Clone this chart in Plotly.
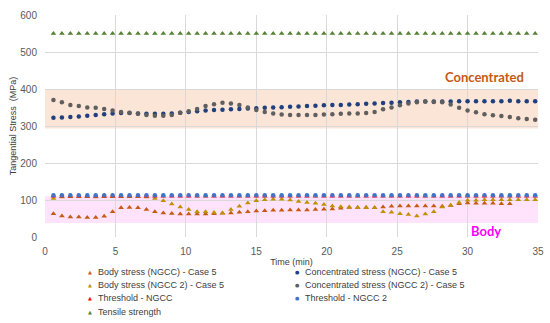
import plotly.graph_objects as go

# ---- data ----
time_min = [round(0.6 * k, 1) for k in range(1, 59)]

body_ngcc = [63, 57, 54, 54, 53, 53, 56, 68, 79, 80, 79, 74, 68, 65, 63.5, 62, 62, 62, 62, 63,
             64, 65, 67, 68, 70, 71, 72, 72, 73, 73, 73, 74, 75, 76, 78, 80, 80, 80, 79, 81,
             83, 84, 84, 84, 84, 84, 83, 85, 90, 92, 91, 91, 91, 90, 90, None, None, None]

conc_ngcc = [322, 323, 324, 326, 328, 330, 332, 334, 335, 335, 334, 333, 333, 333, 334, 336, 338, 340, 342, 343,
             344, 345, 346, 347, 348, 349, 350, 351, 352, 353, 354, 355, 356, 357, 357, 358, 359, 360, 361, 362,
             363, 364, 365, 366, 366, 366, 366, 366, 367, 367, 367, 367, 367, 367, 368, 367, 367, 367]

body_ngcc2 = [104, 108, 109, 109, 109, 108, 109, 109, 109, 109, 109, 108, 104, 98, 89, 81, 74, 68, 68, 66,
              65, 74, 83, 92, 98, 101, 102, 102, 100, 96, 93, 91, 88, 84, 82, 81, 80, 80, 79, 68,
              67, 63, 61, 57, 62, 68, 81, 86, 93, 99, 99, 101, 101, 101, 101, 101, 101, 101]

conc_ngcc2 = [370, 364, 357, 354, 350, 349, 346, 342, 338, 336, 333, 330, 328, 328, 330, 336, 340, 346, 354, 359,
              363, 361, 357, 350, 343, 338, 334, 331, 330, 330, 330, 330, 331, 332, 333, 334, 334, 335, 338, 345,
              350, 356, 361, 364, 366, 365, 364, 358, 349, 342, 337, 332, 329, 327, 324, 321, 319, 317]

threshold_ngcc = [110] * 58
threshold_ngcc2 = [113] * 58
tensile_strength = [550] * 58

series_names = ["Body stress (NGCC) - Case 5", "Concentrated stress (NGCC) - Case 5",
                "Body stress (NGCC 2) - Case 5", "Concentrated stress (NGCC 2) - Case 5",
                "Threshold - NGCC", "Threshold - NGCC 2", "Tensile strength"]

conc_band = [293, 400]
body_band = [38, 110]
x_ticks = [0, 5, 10, 15, 20, 25, 30, 35]
y_ticks = [0, 100, 200, 300, 400, 500, 600]

# ---- styles ----
series_values = [body_ngcc, conc_ngcc, body_ngcc2, conc_ngcc2, threshold_ngcc, threshold_ngcc2, tensile_strength]
colors = ["#c55a11", "#1f3f7f", "#bf9000", "#5f5f5f", "#ff0000", "#4472c4", "#548235"]
symbols = ["triangle-up", "circle", "triangle-up", "circle", "triangle-up", "circle", "triangle-up"]
sizes = [5, 4.5, 5, 4.5, 5, 4.5, 5]

fig = go.Figure()
for name, vals, c, s, sz in zip(series_names, series_values, colors, symbols, sizes):
    fig.add_trace(go.Scatter(x=time_min, y=vals, mode="markers", name=name,
                             marker=dict(color=c, symbol=s, size=sz, line=dict(width=0)),
                             showlegend=False))

# bands
fig.add_shape(type="rect", xref="x", yref="y", x0=0, x1=35, y0=conc_band[0], y1=conc_band[1],
              fillcolor="#fbe5d6", line=dict(width=0), layer="below")
fig.add_shape(type="rect", xref="x", yref="y", x0=0, x1=35, y0=body_band[0], y1=body_band[1],
              fillcolor="#ffe3fd", line=dict(width=0), layer="below")

fig.add_annotation(x=31.2, y=433, xref="x", yref="y", text="<b>Concentrated</b>", showarrow=False,
                   font=dict(family="Lato", size=13, color="#c55a11"))
fig.add_annotation(x=31.3, y=17, xref="x", yref="y", text="<b>Body</b>", showarrow=False,
                   font=dict(family="Lato", size=13, color="#ff00ff"))

# custom legend (two columns, compact rows)
leg_x_marker = [0.0913, 0.513]
leg_x_text = [0.1034, 0.523]
leg_rows = [-0.1577, -0.216, -0.277, -0.338]
for i, (name, c, s) in enumerate(zip(series_names, colors, symbols)):
    col = i % 2
    row = i // 2
    glyph = "▲" if s == "triangle-up" else "●"
    fig.add_annotation(x=leg_x_marker[col], y=leg_rows[row], xref="paper", yref="paper",
                       text=glyph, showarrow=False, xanchor="center", yanchor="middle",
                       font=dict(family="DejaVu Sans", size=5, color=c))
    fig.add_annotation(x=leg_x_text[col], y=leg_rows[row], xref="paper", yref="paper",
                       text=name, showarrow=False, xanchor="left", yanchor="middle",
                       font=dict(family="Liberation Sans", size=9, color="#404040"))

fig.update_layout(
    width=550, height=323,
    margin=dict(l=45, r=12, t=15, b=86),
    plot_bgcolor="white", paper_bgcolor="white",
    font=dict(family="Liberation Sans", size=10, color="#595959"),
    showlegend=False,
)
fig.update_xaxes(range=[0, 35], tickvals=x_ticks, showgrid=True, gridcolor="#d9d9d9", gridwidth=1,
                 zeroline=False, showline=False, ticks="outside", ticklen=5, tickcolor="rgba(0,0,0,0)",
                 automargin=False,
                 title=dict(text="Time (min)", font=dict(size=9, color="#404040"), standoff=2),
                 tickfont=dict(size=10, color="#595959"))
fig.update_yaxes(range=[0, 600], tickvals=y_ticks, showgrid=True, gridcolor="#d9d9d9", gridwidth=1,
                 zeroline=False, showline=False, ticks="outside", ticklen=5, tickcolor="rgba(0,0,0,0)",
                 automargin=False,
                 title=dict(text="Tangential Stress  (MPa)", font=dict(size=9, color="#404040"), standoff=2),
                 tickfont=dict(size=10, color="#595959"))

fig.write_html("out.html", config={"displayModeBar": False},
               post_script="document.body.style.margin='0';")
